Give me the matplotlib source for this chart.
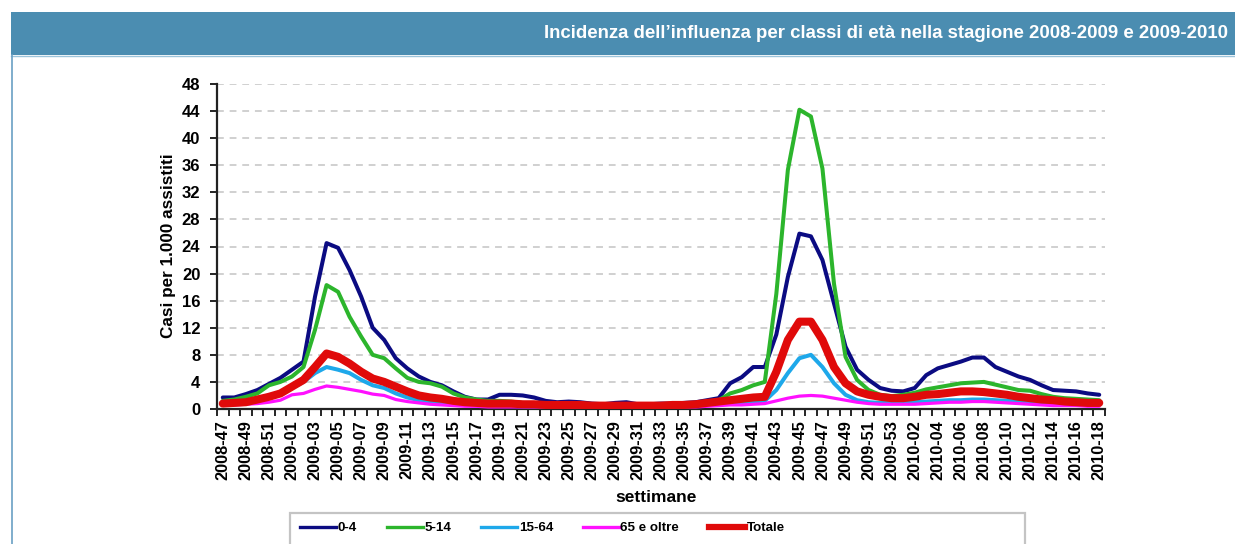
import numpy as np
import matplotlib
matplotlib.use("Agg")
import matplotlib.pyplot as plt
from matplotlib.patches import Rectangle
from matplotlib.lines import Line2D
from matplotlib import font_manager as fm

# ---------------- data ----------------
weeks = ([f"2008-{w:02d}" for w in range(47, 53)] +
         [f"2009-{w:02d}" for w in range(1, 54)] +
         [f"2010-{w:02d}" for w in range(1, 19)])

v_0_4 = [1.7, 1.7, 2.2, 2.8, 3.7, 4.6, 5.8, 7.0, 16.6, 24.5, 23.8, 20.5, 16.6, 12.0, 10.2, 7.5,
         6.0, 4.8, 4.0, 3.5, 2.6, 1.8, 1.4, 1.4, 2.1, 2.1, 2.0, 1.7, 1.2, 1.0, 1.1, 1.0, 0.8, 0.7,
         0.9, 1.0, 0.7, 0.7, 0.8, 0.8, 0.9, 1.0, 1.3, 1.6,
         3.8, 4.7, 6.2, 6.2, 11.0, 19.5, 25.9, 25.5, 22.0, 15.6, 9.2, 5.8, 4.3, 3.1, 2.7,
         2.6, 3.1, 5.0, 6.0, 6.5, 7.0, 7.6, 7.6, 6.2, 5.5, 4.8, 4.3, 3.5, 2.8, 2.7, 2.6, 2.3, 2.1]

v_5_14 = [1.2, 1.4, 1.8, 2.3, 3.5, 4.0, 4.8, 6.2, 11.7, 18.3, 17.3, 13.6, 10.7, 8.0, 7.5, 6.0,
          4.6, 4.0, 3.8, 3.3, 2.3, 1.7, 1.4, 1.2, 1.2, 1.1, 0.9, 0.8, 0.7, 0.6, 0.6, 0.6, 0.5, 0.5,
          0.5, 0.5, 0.5, 0.5, 0.5, 0.6, 0.6, 0.8, 1.0, 1.3,
          2.3, 2.8, 3.5, 4.0, 17.0, 35.3, 44.2, 43.2, 35.5, 18.5, 7.7, 4.3, 2.8, 2.1, 1.9,
          2.1, 2.4, 2.9, 3.2, 3.5, 3.8, 3.9, 4.0, 3.6, 3.2, 2.8, 2.7, 2.2, 1.8, 1.6, 1.5, 1.4, 1.3]

v_15_64 = [0.8, 0.9, 1.0, 1.3, 1.6, 2.1, 3.1, 4.0, 5.3, 6.2, 5.8, 5.3, 4.3, 3.5, 3.1, 2.3,
           1.7, 1.3, 1.1, 0.9, 0.7, 0.6, 0.5, 0.5, 0.5, 0.5, 0.4, 0.4, 0.4, 0.4, 0.4, 0.4, 0.3, 0.3,
           0.3, 0.3, 0.3, 0.3, 0.3, 0.4, 0.4, 0.5, 0.6, 0.7,
           0.8, 0.9, 1.0, 1.2, 2.8, 5.3, 7.5, 8.0, 6.2, 3.8, 2.1, 1.3, 1.0, 0.9, 0.9,
           0.9, 1.0, 1.1, 1.2, 1.3, 1.3, 1.4, 1.4, 1.3, 1.2, 1.1, 1.0, 0.9, 0.8, 0.8, 0.7, 0.7, 0.7]

v_65 = [0.6, 0.6, 0.7, 0.8, 1.0, 1.3, 2.1, 2.3, 2.9, 3.4, 3.2, 2.9, 2.6, 2.2, 2.0, 1.4,
        1.1, 0.9, 0.7, 0.6, 0.5, 0.4, 0.4, 0.3, 0.3, 0.3, 0.3, 0.3, 0.3, 0.3, 0.2, 0.2, 0.2, 0.2,
        0.2, 0.2, 0.2, 0.2, 0.2, 0.3, 0.3, 0.3, 0.4, 0.5,
        0.6, 0.6, 0.7, 0.8, 1.2, 1.6, 1.9, 2.0, 1.9, 1.6, 1.3, 1.0, 0.8, 0.7, 0.7,
        0.7, 0.7, 0.8, 0.9, 1.0, 1.0, 1.1, 1.1, 1.0, 0.9, 0.8, 0.7, 0.6, 0.5, 0.5, 0.5, 0.4, 0.4]

v_tot = [0.8, 0.9, 1.0, 1.4, 1.8, 2.3, 3.3, 4.3, 6.2, 8.2, 7.7, 6.7, 5.5, 4.5, 4.0, 3.3,
         2.6, 2.0, 1.7, 1.5, 1.2, 1.0, 0.9, 0.8, 0.8, 0.8, 0.7, 0.7, 0.6, 0.6, 0.6, 0.6, 0.5, 0.5,
         0.5, 0.5, 0.5, 0.5, 0.5, 0.6, 0.6, 0.7, 0.9, 1.1,
         1.3, 1.5, 1.7, 1.8, 5.5, 10.2, 12.9, 12.9, 10.2, 6.2, 3.8, 2.6, 2.1, 1.8, 1.6,
         1.6, 1.8, 2.1, 2.2, 2.4, 2.6, 2.6, 2.5, 2.3, 2.1, 1.8, 1.6, 1.4, 1.3, 1.1, 1.0, 0.9, 0.9]

series_labels = ["0-4", "5-14", "15-64", "65 e oltre", "Totale"]
series_values = [v_0_4, v_5_14, v_15_64, v_65, v_tot]
series_colors = ["#0b0b82", "#2cb52c", "#1ea8ea", "#ff10ff", "#e00a0a"]
series_widths = [2.9, 2.9, 2.9, 2.3, 5.8]
legend_widths = [2.4, 2.4, 2.4, 2.4, 4.5]

yticks = list(range(0, 49, 4))
title = "Incidenza dell\u2019influenza per classi di età nella stagione 2008-2009 e 2009-2010"

# ---------------- fonts ----------------
names = {f.name for f in fm.fontManager.ttflist}
plt.rcParams['font.family'] = ['Liberation Sans', 'DejaVu Sans']
narrow = 'Liberation Sans Narrow' if 'Liberation Sans Narrow' in names else None
if narrow:
    title_font = dict(family=[narrow, 'DejaVu Sans'], size=15.5)
    leg_font = dict(family=[narrow, 'DejaVu Sans'], size=11.5, weight='bold')
else:
    title_font = dict(family=['Liberation Sans', 'DejaVu Sans'], size=13.4)
    leg_font = dict(family=['Liberation Sans', 'DejaVu Sans'], size=9.6, weight='bold')

W, H = 1235, 544
fig = plt.figure(figsize=(W / 100, H / 100), dpi=100)

def fx(px):
    return px / W

def fy(py):
    return 1 - py / H

# banner
fig.patches.append(Rectangle((fx(11), fy(55)), fx(W - 11), 43 / H, transform=fig.transFigure,
                             facecolor="#4b8db1", edgecolor='none', zorder=0))
fig.lines.append(Line2D([fx(11), fx(W)], [fy(55.5), fy(55.5)], transform=fig.transFigure,
                        color="#9cc3da", lw=1.0))
fig.lines.append(Line2D([fx(11.5), fx(11.5)], [fy(55), fy(H)], transform=fig.transFigure,
                        color="#6aa0c4", lw=1.2))
fig.text(fx(1228), fy(34), title, ha='right', va='center', color='white',
         fontweight='bold', **title_font)

# axes
ax = fig.add_axes([fx(217), fy(409), fx(1105) - fx(217), (409 - 84) / H])
x = np.arange(len(weeks))
for vals, lab, col, lw in zip(series_values, series_labels, series_colors, series_widths):
    ax.plot(x, vals, color=col, lw=lw, label=lab, solid_joinstyle='round',
            solid_capstyle='round', zorder=3)

ax.set_xlim(-0.5, len(weeks) - 0.5)
ax.set_ylim(0, 48)
ax.set_yticks(yticks)
ax.set_yticklabels([str(t) for t in yticks], fontweight='bold', fontsize=12)
ax.set_xticks(x[::2])
ax.set_xticklabels(weeks[::2], rotation=90, fontweight='bold', fontsize=11.8)
ax.set_xticks(np.arange(-0.5, len(weeks), 1), minor=True)
ax.tick_params(axis='x', which='major', length=0, pad=8)
ax.tick_params(axis='x', which='minor', length=5, width=1.2, color='black', direction='out')
ax.tick_params(axis='y', which='major', length=5, width=1.2, color='black', direction='out', pad=7)
ax.yaxis.grid(True, color='#d0d0d0', lw=1.4, linestyle=(0, (3.5, 3.0)), zorder=0)
ax.set_axisbelow(True)
for s in ['top', 'right']:
    ax.spines[s].set_visible(False)
for s in ['left', 'bottom']:
    ax.spines[s].set_color('#222222')
    ax.spines[s].set_linewidth(1.6)

fig.text(fx(656), fy(497), "settimane", ha='center', va='center', fontweight='bold', fontsize=12.5)
fig.text(fx(168), fy(246), "Casi per 1.000 assistiti", ha='center', va='center',
         rotation=90, fontweight='bold', fontsize=12.3)

# legend
fig.patches.append(Rectangle((fx(290), fy(550)), fx(1025 - 290), (550 - 513) / H,
                             transform=fig.transFigure, facecolor='white',
                             edgecolor='#c4c4c4', lw=1.6, zorder=1))
handles = [Line2D([], [], color=c, lw=w) for c, w in zip(series_colors, legend_widths)]
fs_px = leg_font['size'] * 100 / 72
leg = fig.legend(handles, series_labels, loc='center left', bbox_to_anchor=(fx(300), fy(528)),
                 ncol=5, frameon=False, handlelength=36 / fs_px, handletextpad=1.5 / fs_px,
                 columnspacing=30 / fs_px, borderpad=0, borderaxespad=0,
                 prop=leg_font)
leg.set_zorder(5)

fig.savefig("out.png", dpi=100)
